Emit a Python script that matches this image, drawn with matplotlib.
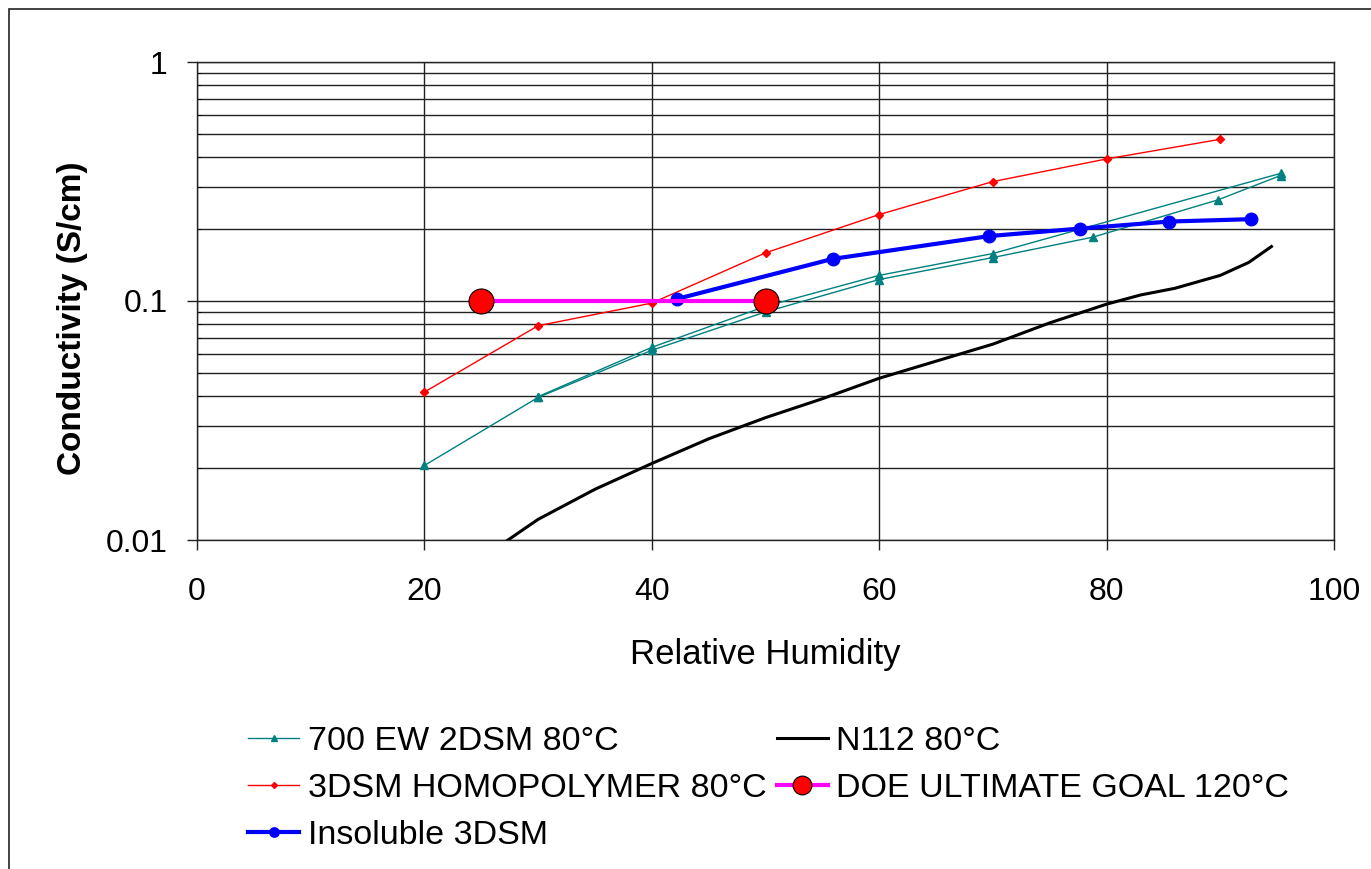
import numpy as np
import matplotlib.pyplot as plt
from matplotlib.patches import Rectangle

plt.rcParams['font.family'] = ['Liberation Sans', 'DejaVu Sans']

# 700 EW 2DSM 80C (two nearly overlapping runs)
ew_rh = [20, 30, 40, 50, 60, 70, 78.8, 89.8, 95.3]
ew_cond = [0.0205, 0.0395, 0.0622, 0.090, 0.123, 0.152, 0.185, 0.265, 0.335]
ew2_rh = [30, 40, 50, 60, 70, 95.3]
ew2_cond = [0.0398, 0.0640, 0.095, 0.128, 0.158, 0.342]

# 3DSM HOMOPOLYMER 80C
homo_rh = [20, 30, 40, 50, 60, 70, 80, 90]
homo_cond = [0.0416, 0.0788, 0.098, 0.159, 0.230, 0.316, 0.393, 0.475]

# Insoluble 3DSM
insol_rh = [42.2, 55.9, 69.7, 77.7, 85.5, 92.7]
insol_cond = [0.102, 0.150, 0.187, 0.201, 0.215, 0.220]

# N112 80C
n112_rh = [25.5, 30, 35, 40, 45, 50, 55, 60, 65, 70, 75, 80, 83, 86, 90, 92.5, 94.5]
n112_cond = [0.0087, 0.0122, 0.0163, 0.0209, 0.0265, 0.0325, 0.039, 0.0475, 0.056,
             0.066, 0.081, 0.097, 0.106, 0.113, 0.128, 0.145, 0.169]

# DOE ultimate goal 120C
doe_rh = [25, 50]
doe_cond = [0.1, 0.1]

W, H = 1371, 869
fig = plt.figure(figsize=(W / 100, H / 100), dpi=100)
ax = fig.add_axes([197 / W, 1 - 540 / H, (1334 - 197) / W, (540 - 62) / H])

# outer chart frame (open at right/bottom like the cropped original)
fig.patches.append(Rectangle((9 / W, -0.1), 1.2, 1 - 9 / H + 0.1,
                             transform=fig.transFigure, fill=False,
                             edgecolor='#222222', linewidth=1.2))

teal = '#008080'
l_ew, = ax.plot(ew_rh, ew_cond, color=teal, lw=1.0, marker='^', ms=6,
                label='700 EW 2DSM 80°C', zorder=3)
ax.plot(ew2_rh, ew2_cond, color=teal, lw=1.0, marker='^', ms=6, zorder=3)
l_homo, = ax.plot(homo_rh, homo_cond, color='#ff0000', lw=1.0, marker='D', ms=4,
                  label='3DSM HOMOPOLYMER 80°C', zorder=3)
l_ins, = ax.plot(insol_rh, insol_cond, color='#0000ff', lw=3.0, marker='o', ms=9,
                 label='Insoluble 3DSM', zorder=4)
l_n112, = ax.plot(n112_rh, n112_cond, color='black', lw=2.2,
                  label='N112 80°C', zorder=3)
l_doe, = ax.plot(doe_rh, doe_cond, color='#ff00ff', lw=3.0, marker='o', ms=18,
                 mfc='#ff0000', mec='black', mew=0.8,
                 label='DOE ULTIMATE GOAL 120°C', zorder=5)

ax.set_yscale('log')
ax.set_xlim(0, 100)
ax.set_ylim(0.01, 1)
ax.set_xticks([0, 20, 40, 60, 80, 100])
ax.set_yticks([0.01, 0.1, 1])
ax.set_yticklabels(['0.01', '0.1', '1'])
ax.grid(True, which='major', axis='both', color='#222222', lw=1.0)
ax.grid(True, which='minor', axis='y', color='#222222', lw=1.0)
ax.tick_params(axis='both', which='major', labelsize=23, direction='out',
               length=7, width=1.0, color='#222222')
ax.tick_params(axis='x', pad=20)
ax.tick_params(axis='y', pad=14)
ax.tick_params(axis='y', which='minor', direction='in', length=3, labelleft=False)
for sp in ax.spines.values():
    sp.set_color('#222222')
    sp.set_linewidth(1.0)

ax.set_xlabel('Relative Humidity', fontsize=25, labelpad=22)
ax.set_ylabel('Conductivity (S/cm)', fontsize=24, fontweight='bold')
ax.yaxis.set_label_coords(-0.096, 0.464)

fig.legend(handles=[l_ew, l_homo, l_ins, l_n112, l_doe], ncol=2,
           loc='upper left', bbox_to_anchor=(248 / W, 1 - 726 / H),
           frameon=False, fontsize=24.5, handlelength=1.5, handletextpad=0.25,
           columnspacing=0.3, labelspacing=0.47, borderaxespad=0, borderpad=0,
           markerscale=0.75)

fig.savefig('out.png', dpi=100)
